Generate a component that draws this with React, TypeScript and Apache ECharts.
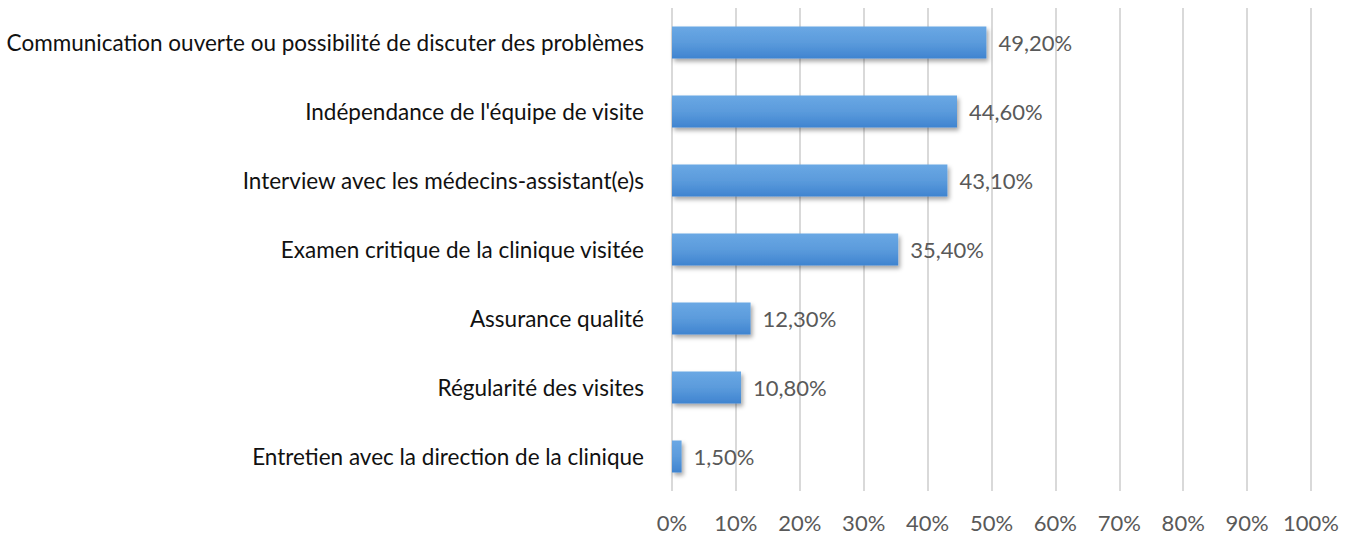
import React, { useEffect, useRef } from "react";
import * as echarts from "echarts";

const categories = [
  "Communication ouverte ou possibilité de discuter des problèmes",
  "Indépendance de l'équipe de visite",
  "Interview avec les médecins-assistant(e)s",
  "Examen critique de la clinique visitée",
  "Assurance qualité",
  "Régularité des visites",
  "Entretien avec la direction de la clinique",
];
const values = [49.2, 44.6, 43.1, 35.4, 12.3, 10.8, 1.5];

export default function App() {
  const ref = useRef<HTMLDivElement>(null);
  useEffect(() => {
    document.body.style.margin = "0";
    const chart = echarts.init(ref.current!, null, { renderer: "svg" });
    const font = "Lato, 'Open Sans', sans-serif";
    chart.setOption({
      animation: false,
      grid: { left: 672, right: 46, top: 8, bottom: 44, containLabel: false },
      xAxis: {
        type: "value",
        min: 0,
        max: 100,
        interval: 10,
        axisLine: { show: false },
        axisTick: { show: false },
        splitLine: { show: true, lineStyle: { color: "#d9d9d9", width: 2 } },
        axisLabel: {
          formatter: (v: number) => `${v}%`,
          color: "#595959",
          fontSize: 22,
          lineHeight: 22,
          fontFamily: font,
          margin: 20,
        },
      },
      yAxis: {
        type: "category",
        inverse: true,
        data: categories,
        axisLine: { show: false },
        axisTick: { show: false },
        axisLabel: {
          color: "#111111",
          fontSize: 22.5,
          fontFamily: font,
          margin: 28,
        },
      },
      series: [
        {
          type: "bar",
          data: values,
          barWidth: 32,
          itemStyle: {
            color: new echarts.graphic.LinearGradient(0, 0, 0, 1, [
              { offset: 0, color: "#6aa8e4" },
              { offset: 0.5, color: "#5b9bdc" },
              { offset: 1, color: "#3f84d0" },
            ]),
            shadowColor: "rgba(0,0,0,0.35)",
            shadowBlur: 4,
            shadowOffsetX: 2,
            shadowOffsetY: 3,
          },
          label: {
            show: true,
            position: "right",
            distance: 12,
            color: "#595959",
            fontSize: 22,
            fontFamily: font,
            formatter: (p: any) => p.value.toFixed(2).replace(".", ",") + "%",
          },
        },
      ],
    });
    return () => chart.dispose();
  }, []);
  return <div ref={ref} style={{ width: 1357, height: 535 }} />;
}
